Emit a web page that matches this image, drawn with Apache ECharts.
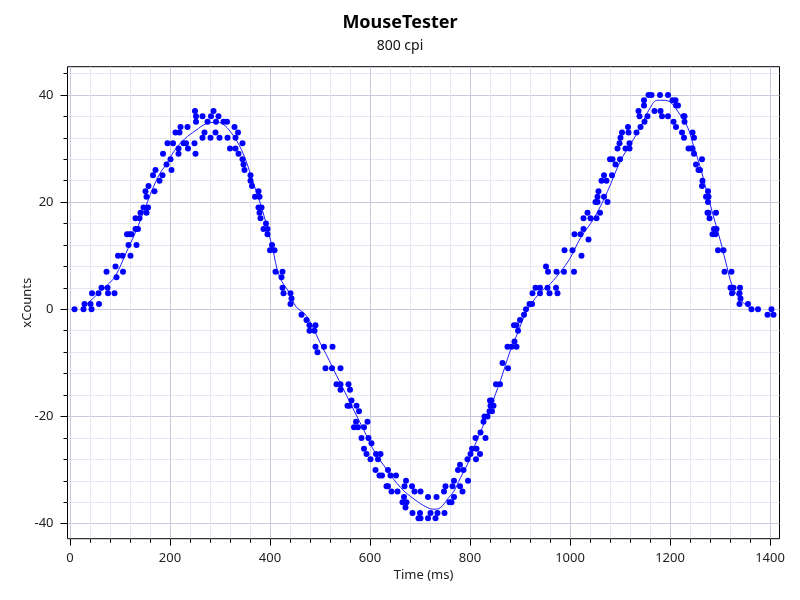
<!DOCTYPE html>
<html>
<head>
<meta charset="utf-8">
<script src="https://cdn.jsdelivr.net/npm/echarts@6/dist/echarts.min.js"></script>
<style>html,body{margin:0;padding:0;background:#fff}#c{width:800px;height:600px}</style>
</head>
<body>
<div id="c"></div>
<script>
// ---- data ----
const titleText = 'MouseTester';
const subtitleText = '800 cpi';
const xAxisName = 'Time (ms)';
const yAxisName = 'xCounts';

// scatter samples: time (ms) and counts
const pointTimes = [9,27,29,41,43,44,57,58,63,73,75,76,89,91,93,96,105,106,114,117,119,121,123,131,131,133,136,139,141,147,151,153,153,156,157,166,169,171,179,185,186,193,195,201,203,206,211,217,217,219,221,227,232,235,236,249,250,251,252,252,265,265,269,275,281,282,287,291,292,297,299,307,314,315,320,329,331,331,336,337,345,345,347,349,361,361,364,370,377,377,379,379,381,383,387,392,395,395,400,404,409,411,423,425,425,427,441,441,443,463,473,479,479,489,491,491,495,508,511,524,525,533,541,541,541,555,557,559,560,563,568,572,573,576,578,583,588,588,593,595,597,601,603,611,612,616,619,621,624,633,636,636,641,643,652,655,665,668,669,671,672,673,684,685,689,697,700,701,701,716,716,721,731,733,735,748,749,751,759,763,765,768,768,776,780,780,785,787,795,796,801,804,811,812,813,820,821,827,829,831,835,839,840,841,843,844,847,852,860,865,875,876,883,888,889,893,893,896,900,908,912,919,924,925,931,940,940,952,955,956,959,972,973,975,988,989,1005,1008,1009,1021,1023,1027,1027,1035,1037,1041,1051,1053,1055,1055,1057,1060,1063,1068,1068,1073,1075,1080,1084,1085,1091,1095,1099,1100,1101,1104,1111,1116,1117,1119,1119,1133,1137,1139,1141,1148,1148,1149,1155,1157,1163,1169,1180,1181,1184,1196,1196,1205,1207,1211,1212,1212,1216,1224,1227,1228,1229,1229,1237,1243,1245,1245,1248,1248,1252,1257,1260,1264,1264,1265,1272,1275,1276,1276,1277,1277,1279,1285,1288,1291,1292,1293,1296,1307,1309,1321,1323,1324,1327,1339,1339,1340,1341,1356,1363,1376,1395,1403,1407];
const pointCounts = [0,0,1,1,0,3,3,1,4,7,4,3,3,8,6,10,10,7,14,12,14,10,14,15,17,12,15,17,18,19,22,18,21,19,23,25,22,26,24,25,29,27,31,28,26,31,33,29,30,33,34,31,31,34,30,31,37,29,35,36,32,36,33,35,32,36,37,33,35,36,32,35,35,32,30,34,32,30,33,29,28,31,27,26,25,24,23,21,22,19,21,18,17,19,15,16,15,14,11,12,11,7,6,7,4,3,3,1,2,-1,-2,-3,-4,-4,-3,-7,-8,-7,-11,-11,-7,-14,-11,-14,-15,-18,-14,-18,-15,-17,-22,-21,-18,-22,-19,-24,-22,-26,-27,-21,-24,-28,-25,-30,-27,-28,-31,-27,-31,-33,-33,-30,-31,-34,-31,-34,-36,-35,-33,-37,-32,-36,-33,-38,-34,-39,-38,-39,-34,-35,-39,-38,-39,-35,-38,-34,-38,-33,-36,-36,-33,-35,-32,-30,-33,-29,-34,-30,-28,-32,-27,-26,-24,-28,-26,-27,-23,-21,-20,-24,-20,-19,-17,-18,-17,-19,-18,-14,-14,-10,-7,-11,-7,-3,-6,-7,-3,-4,-2,-1,0,1,1,3,4,3,4,8,4,7,3,4,7,3,7,11,11,7,14,14,10,15,17,18,13,17,20,17,20,21,22,18,24,21,25,24,20,28,25,28,27,30,31,28,32,33,30,34,33,30,31,33,37,36,34,38,39,35,36,40,40,37,40,37,36,40,36,39,35,39,38,34,38,33,36,32,36,35,30,30,33,30,32,29,27,26,26,28,23,24,21,18,22,20,21,18,17,14,15,14,18,15,11,11,7,4,7,3,4,3,1,4,2,1,0,0,-1,0,-1];

// smoothed trace: time (ms) and counts
const lineTimes = [32,57,79,92,112,132,149,165,179,192,209,229,252,272,292,305,322,339,352,365,379,392,405,419,439,452,472,485,501,515,528,548,568,588,608,635,661,688,715,728,741,755,768,781,795,808,825,841,861,881,895,908,921,941,961,981,1000,1021,1048,1075,1101,1121,1141,1161,1175,1188,1201,1215,1235,1248,1261,1275,1288,1301,1311,1325,1341,1361];
const lineCounts = [0.8,3,4.9,6.4,10.5,14.6,18.6,22.4,25.2,27,29.6,31.75,33.4,34.6,34.9,34.6,33,30.5,27.7,24,20.2,16.1,11.4,6.1,3,0.5,-1.1,-3.25,-6.4,-8.9,-11.4,-15.1,-18.9,-22.6,-26.4,-30.1,-33.25,-35.4,-37,-37.3,-37,-35.4,-33.9,-31.4,-28.9,-25.75,-22,-18.25,-13.25,-7.6,-4.5,-1.4,0.8,3.2,4.8,7,9.5,13.3,17,22,27.7,30.8,34,37.7,39,39,38.6,37,34,30.2,26.4,21.4,17,12.7,9,4.25,1.75,0.2];

// ---- chart ----
const FONT = '"Noto Sans", "Open Sans", sans-serif';
const MAJOR = '#c8c8de';
const MINOR = '#e6e6f5';
const LABEL = '#222';

const pts = pointTimes.map((t, i) => [t, pointCounts[i]]);
const trace = lineTimes.map((t, i) => [t, lineCounts[i]]);

const chart = echarts.init(document.getElementById('c'), null, {renderer: 'canvas'});
const hiddenAxis = (g) => ({type: 'value', gridIndex: g, show: false});

chart.setOption({
  animation: false,
  backgroundColor: '#fff',
  textStyle: {fontFamily: FONT},
  title: {
    text: titleText, subtext: subtitleText, left: 'center', top: 9, itemGap: 7,
    textStyle: {fontFamily: FONT, fontSize: 18, fontWeight: 'bold', color: '#000'},
    subtextStyle: {fontFamily: FONT, fontSize: 14, color: '#111'}
  },
  grid: [
    {left: 67.5, right: 20.5, top: 66.7, bottom: 61.3, show: true, borderColor: '#000', borderWidth: 1, backgroundColor: 'transparent'},
    {left: 70, right: 30, top: 66.7, bottom: 61.3},
    {left: 67.5, right: 20.5, top: 73.46, bottom: 76.3},
    {left: 67.5, right: 20.5, top: 94.9, bottom: 76.3}
  ],
  xAxis: [
    {type: 'value', gridIndex: 0, min: -5, max: 1419,
     axisLine: {show: false}, axisTick: {show: false}, axisLabel: {show: false}, splitLine: {show: false},
     name: xAxisName, nameLocation: 'middle', nameGap: 30,
     nameTextStyle: {fontFamily: FONT, fontSize: 13, color: LABEL}},
    {type: 'value', gridIndex: 1, min: 0, max: 1400, interval: 200,
     axisLine: {show: false},
     axisTick: {show: true, length: 7, lineStyle: {color: '#000'}},
     minorTick: {show: true, splitNumber: 5, length: 4, lineStyle: {color: '#000'}},
     splitLine: {show: true, lineStyle: {color: MAJOR, width: 1}},
     minorSplitLine: {show: true, lineStyle: {color: MINOR, width: 1}},
     axisLabel: {margin: 13, fontFamily: FONT, fontSize: 13, color: LABEL, formatter: (v) => String(v)}},
    hiddenAxis(2),
    hiddenAxis(3)
  ],
  yAxis: [
    {type: 'value', gridIndex: 0, min: -42.8, max: 45.26,
     axisLine: {show: false}, axisTick: {show: false}, axisLabel: {show: false}, splitLine: {show: false},
     name: yAxisName, nameLocation: 'middle', nameGap: 34,
     nameTextStyle: {fontFamily: FONT, fontSize: 13, color: LABEL}},
    hiddenAxis(1),
    {type: 'value', gridIndex: 2, min: -40, max: 44, interval: 4,
     axisLine: {show: false}, axisLabel: {show: false},
     axisTick: {show: true, length: 4, lineStyle: {color: '#000'}},
     splitLine: {show: true, lineStyle: {color: [MAJOR, MINOR, MINOR, MINOR, MINOR], width: 1}}},
    {type: 'value', gridIndex: 3, min: -40, max: 40, interval: 20,
     axisLine: {show: false}, splitLine: {show: false},
     axisTick: {show: true, length: 7, lineStyle: {color: '#000'}},
     axisLabel: {margin: 14, fontFamily: FONT, fontSize: 13, color: LABEL, formatter: (v) => String(v)}}
  ],
  series: [
    {type: 'line', xAxisIndex: 0, yAxisIndex: 0, data: trace, showSymbol: false, smooth: 0.4,
     lineStyle: {color: '#1c1cff', width: 1}, z: 3, silent: true},
    {type: 'scatter', xAxisIndex: 0, yAxisIndex: 0, data: pts, symbol: 'circle', symbolSize: 6,
     itemStyle: {color: '#0000ff', opacity: 1}, z: 4, silent: true}
  ]
});
</script>
</body>
</html>
